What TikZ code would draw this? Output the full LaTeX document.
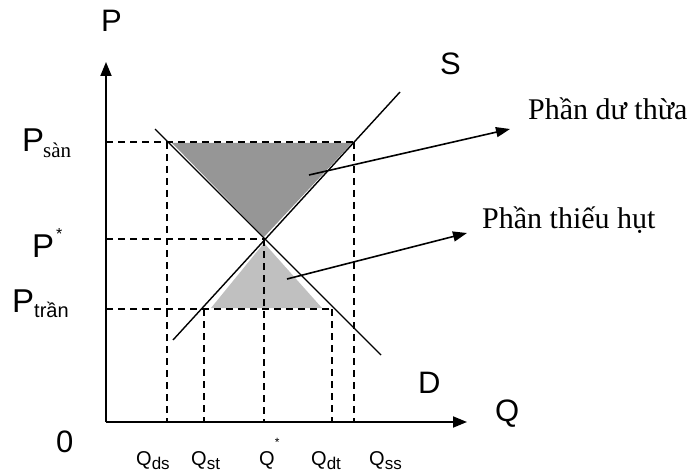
\documentclass[tikz,border=0pt]{standalone}
\usepackage{fontspec}
\setmainfont{Liberation Serif}
\newfontfamily\arial{Liberation Sans}
\usetikzlibrary{arrows.meta}
\begin{document}
\begin{tikzpicture}[x=1pt,y=-1pt,
  axis/.style={line width=1.8pt,-{Triangle[length=14pt,width=11pt]}},
  curve/.style={line width=1.4pt},
  guide/.style={line width=1.4pt,dash pattern=on 7pt off 5pt},
  pointer/.style={line width=1.6pt,-{Triangle[length=14pt,width=10pt]}},
  big/.style={inner sep=0pt,anchor=base west,font=\arial\fontsize{31}{31}\selectfont},
  plab/.style={inner sep=0pt,anchor=base west,font=\arial\fontsize{33}{33}\selectfont},
  qlab/.style={inner sep=0pt,anchor=base west,font=\arial\fontsize{20}{20}\selectfont},
  note/.style={inner sep=0pt,anchor=base west,font=\fontsize{30}{30}\selectfont}]
\useasboundingbox (0,0) rectangle (693,473);
% key points
\coordinate (O) at (106,422);
\coordinate (Ytip) at (106,62);
\coordinate (Xtip) at (467,422);
\coordinate (Dtop) at (155,129);
\coordinate (Dbot) at (381,355);
\coordinate (Sbot) at (173,340);
\coordinate (Stop) at (400,92);
\coordinate (E) at (264,239);
\coordinate (Psan) at (106,142);
\coordinate (Pst) at (106,239);
\coordinate (Ptr) at (106,309);
\coordinate (Dsan) at (167,142);
\coordinate (Ssan) at (354,142);
\coordinate (Str) at (204,309);
\coordinate (Dtr) at (332,309);
\coordinate (Qds) at (167,422);
\coordinate (Qst) at (204,422);
\coordinate (Qe) at (264,422);
\coordinate (Qdt) at (332,422);
\coordinate (Qss) at (354,422);
% shaded areas
\fill[fill={rgb,255:red,150;green,150;blue,150}] (172,143) -- (352,143) -- (264,237) -- cycle;
\fill[fill={rgb,255:red,192;green,192;blue,192}] (211,308) -- (322,308) -- (264,243) -- cycle;
% guides
\draw[guide] (Psan) -- (Ssan);
\draw[guide] (Pst) -- (E);
\draw[guide] (Ptr) -- (Dtr);
\draw[guide] (Dsan) -- (Qds);
\draw[guide] (Str) -- (Qst);
\draw[guide] (E) -- (Qe);
\draw[guide] (Dtr) -- (Qdt);
\draw[guide] (Ssan) -- (Qss);
% curves
\draw[curve] (Dtop) -- (Dbot);
\draw[curve] (Sbot) -- (Stop);
% axes
\draw[axis] (O) -- (Ytip);
\draw[axis] (O) -- (Xtip);
% labels
\node[big] (lP) at (101,32) {P};
\node[big] (lS) at (440,75) {S};
\node[big] (lD) at (418,393) {D};
\node[big] (lQ) at (495,421) {Q};
\node[big] (l0) at (56,452) {0};
\node[plab] (lPsan) at (22,152) {P};
\node[inner sep=0pt,anchor=base west,font=\fontsize{21}{21}\selectfont] (lsan) at (43,158) {sàn};
\node[plab] (lPst) at (32,257) {P};
\node[inner sep=0pt,anchor=base west,font=\arial\fontsize{16}{16}\selectfont] (lstar) at (56,240) {*};
\node[plab] (lPtr) at (12,312) {P};
\node[inner sep=0pt,anchor=base west,font=\arial\fontsize{20}{20}\selectfont] (ltr) at (34,317) {trần};
% Q labels
\node[qlab] (q1) at (136,465) {Q\raisebox{-4pt}{\fontsize{17}{17}\selectfont ds}};
\node[qlab] (q2) at (191,465) {Q\raisebox{-4pt}{\fontsize{17}{17}\selectfont st}};
\node[qlab] (q3) at (259,465) {Q\raisebox{19pt}{\fontsize{12}{12}\selectfont *}};
\node[qlab] (q4) at (311,465) {Q\raisebox{-4pt}{\fontsize{17}{17}\selectfont dt}};
\node[qlab] (q5) at (369,465) {Q\raisebox{-4pt}{\fontsize{17}{17}\selectfont ss}};
% notes
\node[note] (n1) at (528,120) {Phần dư thừa};
\node[note] (n2) at (482,228) {Phần thiếu hụt};
\coordinate (a1) at (309,175);
\coordinate (a2) at (287,279);
\coordinate (t1) at (510,129);
\coordinate (t2) at (467,233);
\draw[pointer] (a1) -- (t1);
\draw[pointer] (a2) -- (t2);
\end{tikzpicture}
\end{document}
